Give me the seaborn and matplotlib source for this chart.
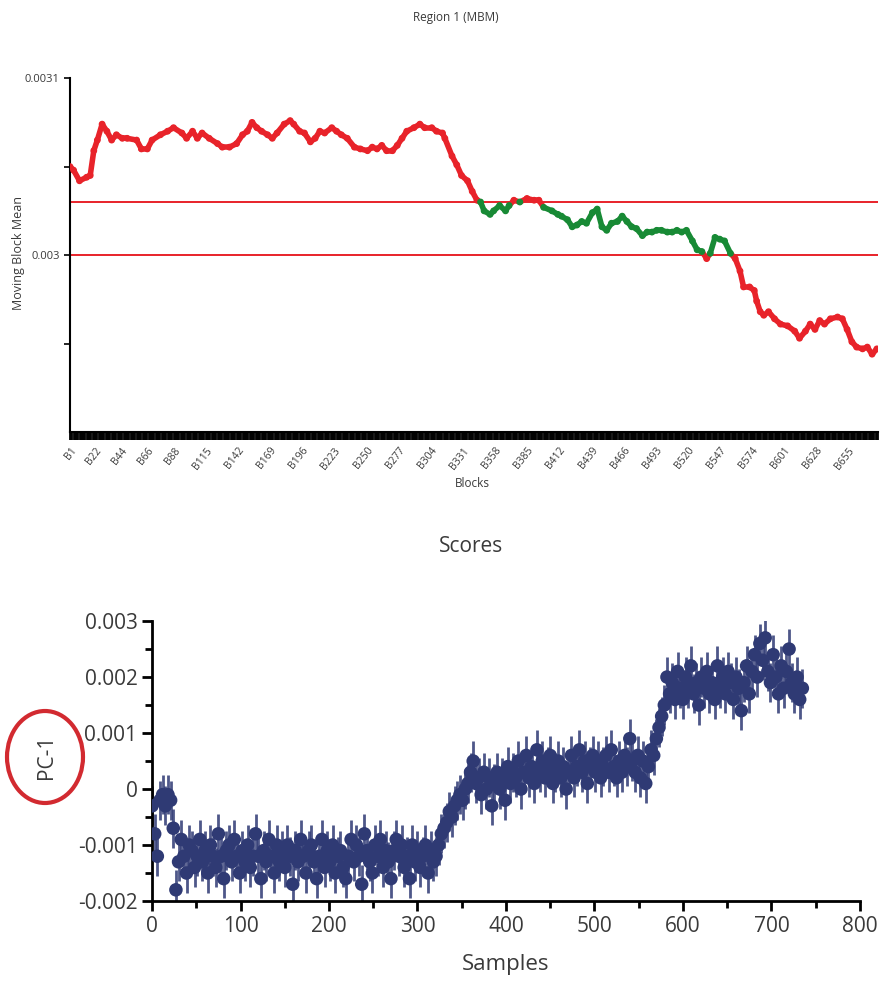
import numpy as np
import pandas as pd
import matplotlib
matplotlib.use('Agg')
import matplotlib.pyplot as plt
from matplotlib.collections import LineCollection
from matplotlib.patches import Ellipse
import seaborn as sns

sns.set_theme(style="white")
plt.rcParams['font.family'] = ['Open Sans', 'DejaVu Sans']

# --- top panel: moving block mean ---
blocks = [1, 4, 9, 15, 18, 21, 24, 28, 32, 36, 40, 45, 49, 57, 61, 66, 70, 77, 83, 88,
          95, 99, 104, 108, 112, 118, 125, 129, 135, 141, 146, 150, 154, 158, 162, 167,
          171, 175, 181, 186, 189, 194, 198, 203, 207, 211, 215, 221, 225, 229, 234, 240,
          245, 251, 255, 259, 263, 267, 272, 276, 280, 284, 290, 295, 299, 305, 309, 314,
          316, 322, 326, 330, 335, 339, 343, 346, 349, 354, 357, 362, 367, 370, 374, 379,
          385, 391, 395, 399, 406, 411, 414, 419, 423, 427, 431, 435, 440, 444, 448, 452,
          456, 461, 465, 469, 473, 477, 482, 486, 490, 494, 498, 503, 507, 511, 515, 519,
          524, 528, 532, 536, 539, 543, 547, 551, 556, 560, 564, 567, 572, 576, 578, 581,
          584, 588, 593, 598, 604, 610, 614, 619, 623, 627, 631, 635, 640, 646, 650, 654,
          658, 662, 667, 671, 675, 679]
block_mean = [0.003050, 0.003048, 0.003042, 0.003044, 0.003045, 0.003059, 0.003065, 0.003074,
              0.003070, 0.003065, 0.003068, 0.003066, 0.003066, 0.003065, 0.003060, 0.003060,
              0.003065, 0.003068, 0.003070, 0.003072, 0.003069, 0.003066, 0.003070, 0.003066,
              0.003069, 0.003066, 0.003063, 0.003061, 0.003061, 0.003063, 0.003068, 0.003070,
              0.003075, 0.003072, 0.003070, 0.003068, 0.003066, 0.003069, 0.003074, 0.003076,
              0.003074, 0.003070, 0.003069, 0.003064, 0.003066, 0.003070, 0.003069, 0.003072,
              0.003070, 0.003068, 0.003066, 0.003061, 0.003060, 0.003059, 0.003061, 0.003060,
              0.003062, 0.003059, 0.003059, 0.003062, 0.003066, 0.003070, 0.003072, 0.003074,
              0.003072, 0.003072, 0.003070, 0.003069, 0.003066, 0.003056, 0.003051, 0.003045,
              0.003042, 0.003036, 0.003031, 0.003030, 0.003025, 0.003023, 0.003025, 0.003028,
              0.003025, 0.003028, 0.003031, 0.003030, 0.003032, 0.003031, 0.003031, 0.003027,
              0.003025, 0.003023, 0.003022, 0.003020, 0.003016, 0.003017, 0.003019, 0.003018,
              0.003024, 0.003026, 0.003016, 0.003014, 0.003018, 0.003019, 0.003022, 0.003019,
              0.003016, 0.003015, 0.003011, 0.003013, 0.003013, 0.003014, 0.003014, 0.003013,
              0.003013, 0.003014, 0.003013, 0.003014, 0.003008, 0.003003, 0.003002, 0.002998,
              0.003001, 0.003010, 0.003009, 0.003008, 0.003001, 0.002998, 0.002991, 0.002982,
              0.002982, 0.002980, 0.002974, 0.002968, 0.002966, 0.002968, 0.002964, 0.002961,
              0.002960, 0.002957, 0.002953, 0.002957, 0.002961, 0.002958, 0.002963, 0.002961,
              0.002964, 0.002965, 0.002964, 0.002958, 0.002951, 0.002948, 0.002947, 0.002948,
              0.002944, 0.002947]
lower_limit = 0.003
upper_limit = 0.00303
n_blocks = 680
block_ticks = [1, 22, 44, 66, 88, 115, 142, 169, 196, 223, 250, 277, 304, 331, 358,
               385, 412, 439, 466, 493, 520, 547, 574, 601, 628, 655]

# --- bottom panel: PC-1 scores, every 3rd sample ---
pc1 = [-0.0003, -0.0008, -0.0012, -0.0002, -0.0001, -0.0003, -0.0001, -0.0002, -0.0007, -0.0018,
       -0.0013, -0.0009, -0.0012, -0.0015, -0.0010, -0.0011, -0.0014, -0.0012, -0.0009, -0.0013,
       -0.0011, -0.0015, -0.0010, -0.0012, -0.0014, -0.0008, -0.0012, -0.0016, -0.0011, -0.0010,
       -0.0013, -0.0009, -0.0012, -0.0015, -0.0011, -0.0013, -0.0010, -0.0014, -0.0012, -0.0008,
       -0.0012, -0.0016, -0.0011, -0.0013, -0.0009, -0.0012, -0.0015, -0.0010, -0.0013, -0.0011,
       -0.0014, -0.0010, -0.0012, -0.0017, -0.0011, -0.0013, -0.0009, -0.0012, -0.0015, -0.0011,
       -0.0010, -0.0013, -0.0016, -0.0012, -0.0009, -0.0014, -0.0011, -0.0013, -0.0010, -0.0015,
       -0.0012, -0.0011, -0.0014, -0.0016, -0.0012, -0.0009, -0.0013, -0.0010, -0.0012, -0.0017,
       -0.0008, -0.0011, -0.0013, -0.0015, -0.0010, -0.0012, -0.0009, -0.0014, -0.0011, -0.0013,
       -0.0016, -0.0011, -0.0009, -0.0012, -0.0010, -0.0014, -0.0012, -0.0016, -0.0010, -0.0013,
       -0.0011, -0.0014, -0.0012, -0.0010, -0.0015, -0.0011, -0.0013, -0.0012, -0.0010, -0.0008,
       -0.0007, -0.0006, -0.0004, -0.0005, -0.0003, -0.0002, -0.0001, -0.0002, 0.0000, 0.0001,
       0.0003, 0.0005, 0.0001, 0.0002, -0.0001, 0.0003, 0.0000, 0.0002, -0.0003, 0.0001,
       0.0003, 0.0000, 0.0002, -0.0002, 0.0004, 0.0001, 0.0003, 0.0002, 0.0005, 0.0000,
       0.0003, 0.0006, 0.0002, 0.0004, 0.0001, 0.0007, 0.0003, 0.0005, 0.0002, 0.0004,
       0.0006, 0.0001, 0.0003, 0.0005, 0.0002, 0.0004, 0.0000, 0.0003, 0.0006, 0.0002,
       0.0004, 0.0007, 0.0003, 0.0005, 0.0001, 0.0004, 0.0006, 0.0003, 0.0005, 0.0002,
       0.0004, 0.0006, 0.0003, 0.0007, 0.0004, 0.0002, 0.0005, 0.0003, 0.0006, 0.0004,
       0.0009, 0.0005, 0.0003, 0.0006, 0.0002, 0.0005, 0.0001, 0.0004, 0.0007, 0.0006,
       0.0009, 0.0011, 0.0013, 0.0015, 0.0020, 0.0017, 0.0019, 0.0016, 0.0021, 0.0018,
       0.0016, 0.0020, 0.0018, 0.0022, 0.0017, 0.0019, 0.0015, 0.0020, 0.0018, 0.0021,
       0.0017, 0.0019, 0.0016, 0.0022, 0.0018, 0.0020, 0.0017, 0.0021, 0.0019, 0.0016,
       0.0020, 0.0018, 0.0014, 0.0019, 0.0022, 0.0017, 0.0021, 0.0024, 0.0020, 0.0026,
       0.0023, 0.0027, 0.0021, 0.0019, 0.0024, 0.0020, 0.0017, 0.0022, 0.0018, 0.0021,
       0.0025, 0.0019, 0.0017, 0.0020, 0.0016, 0.0018]
sample_step = 3
pc1_err = 0.00035

red = '#e8232a'
green = '#188a35'
navy = '#2f3a74'
text_col = '#3a3a3a'

fig = plt.figure(figsize=(8.87, 9.83), dpi=100)

# ---------------- TOP: Region 1 (MBM) ----------------
ax1 = fig.add_axes([0.0789, 0.5605, 0.911, 0.360])
df1 = pd.DataFrame({'Block': blocks, 'Mean': block_mean})
inside = (df1['Mean'] >= lower_limit) & (df1['Mean'] <= upper_limit)
df1['Status'] = np.where(inside, 'in', 'out')

pts = df1[['Block', 'Mean']].to_numpy()
segs = np.stack([pts[:-1], pts[1:]], axis=1)
seg_in = inside.to_numpy()[:-1] & inside.to_numpy()[1:]
ax1.add_collection(LineCollection(segs, colors=[green if s else red for s in seg_in],
                                  linewidths=4, capstyle='round', zorder=2))
sns.scatterplot(data=df1, x='Block', y='Mean', hue='Status', palette={'in': green, 'out': red},
                s=24, edgecolor='none', legend=False, ax=ax1, zorder=3)

ax1.axhline(lower_limit, color=red, lw=1.4, zorder=1)
ax1.axhline(upper_limit, color=red, lw=1.4, zorder=1)

ax1.set_xlim(1, n_blocks)
ax1.set_ylim(0.0029, 0.0031)
ax1.set_yticks([0.003, 0.0031], labels=['0.003', '0.0031'])
ax1.set_yticks([0.00295, 0.00305], minor=True)
ax1.set_xticks(block_ticks, labels=['B' + str(b) for b in block_ticks])
ax1.set_xticks(range(1, n_blocks + 1), minor=True)
for lab in ax1.get_xticklabels():
    lab.set_rotation(52)
    lab.set_ha('right')
    lab.set_rotation_mode('anchor')
ax1.tick_params(axis='both', which='both', direction='out', color='black',
                labelcolor=text_col, left=True, bottom=True)
ax1.tick_params(axis='x', which='both', length=6, width=1.3, labelsize=7.5)
ax1.tick_params(axis='y', which='both', length=4, width=1.2, labelsize=8)

sns.despine(ax=ax1)
for side in ['left', 'bottom']:
    ax1.spines[side].set_color('black')
    ax1.spines[side].set_linewidth(1.5)

ax1.set_xlabel('Blocks', fontsize=8.5, color=text_col)
ax1.set_ylabel('Moving Block Mean', fontsize=9, color=text_col)
ax1.xaxis.set_label_coords(0.4975, -0.128)
ax1.yaxis.set_label_coords(-0.056, 0.505)
fig.text(456 / 887, 1 - 18 / 983, 'Region 1 (MBM)', ha='center', va='center',
         fontsize=8.5, color=text_col)

# ---------------- BOTTOM: Scores ----------------
ax2 = fig.add_axes([0.1714, 0.0834, 0.798, 0.2848])
df2 = pd.DataFrame({'Samples': np.arange(len(pc1)) * sample_step, 'PC-1': pc1})
ax2.errorbar(df2['Samples'], df2['PC-1'], yerr=pc1_err, fmt='none', ecolor=navy,
             elinewidth=2, alpha=0.85, zorder=2)
sns.scatterplot(data=df2, x='Samples', y='PC-1', color=navy, s=95, edgecolor='none',
                ax=ax2, zorder=3)

ax2.set_xlim(0, 800)
ax2.set_ylim(-0.002, 0.003)
ax2.set_xticks(range(0, 801, 100))
ax2.set_xticks(range(50, 800, 100), minor=True)
ytk = [-0.002, -0.001, 0, 0.001, 0.002, 0.003]
ax2.set_yticks(ytk, labels=['-0.002', '-0.001', '0', '0.001', '0.002', '0.003'])
ax2.set_yticks([-0.0015, -0.0005, 0.0005, 0.0015, 0.0025], minor=True)
ax2.tick_params(axis='both', which='both', direction='out', color='black',
                labelsize=15, labelcolor=text_col, left=True, bottom=True)
ax2.tick_params(which='major', length=7, width=2)
ax2.tick_params(which='minor', length=5, width=2)

sns.despine(ax=ax2)
for side in ['left', 'bottom']:
    ax2.spines[side].set_color('black')
    ax2.spines[side].set_linewidth(2)

ax2.set_xlabel('Samples', fontsize=16, color=text_col)
ax2.set_ylabel('PC-1', fontsize=15, color=text_col)
ax2.xaxis.set_label_coords(0.5, -0.19)
ax2.yaxis.set_label_coords(-0.134, 0.514)
fig.text(471 / 887, 1 - 547 / 983, 'Scores', ha='center', va='center',
         fontsize=15, color=text_col)

# red highlight ring around the PC-1 label
ring = Ellipse((45 / 887, 1 - 757 / 983), 76 / 887, 92 / 983, transform=fig.transFigure,
               fill=False, edgecolor='#d22a30', linewidth=3)
fig.add_artist(ring)

fig.savefig('out.png', dpi=100)
